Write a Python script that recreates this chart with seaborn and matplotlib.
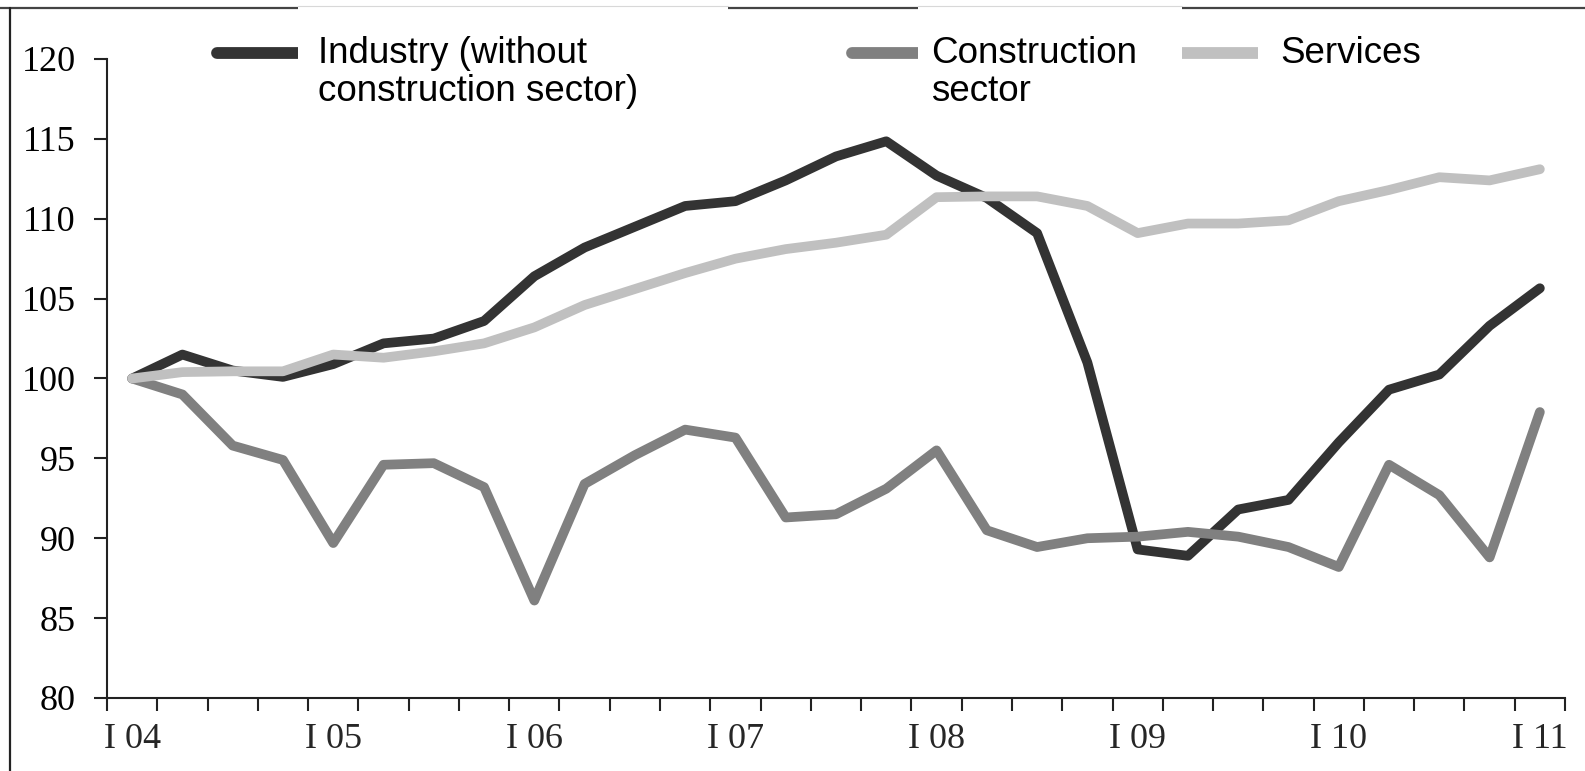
import numpy as np
import pandas as pd
import matplotlib.pyplot as plt
import seaborn as sns
from matplotlib.lines import Line2D
from matplotlib.patches import Rectangle

# quarterly index, I 04 = 100
year_labels = ['I 04', 'I 05', 'I 06', 'I 07', 'I 08', 'I 09', 'I 10', 'I 11']
quarters = list(range(29))
industry = [100.0, 101.5, 100.5, 100.1, 100.9, 102.2, 102.5, 103.6, 106.4, 108.2,
            109.5, 110.8, 111.1, 112.4, 113.9, 114.85, 112.7, 111.3, 109.1, 101.0,
            89.3, 88.9, 91.8, 92.4, 96.0, 99.3, 100.25, 103.3, 105.65]
construction = [100.0, 99.0, 95.8, 94.9, 89.7, 94.6, 94.7, 93.2, 86.1, 93.4,
                95.2, 96.8, 96.3, 91.3, 91.5, 93.1, 95.5, 90.5, 89.45, 90.0,
                90.1, 90.4, 90.1, 89.45, 88.2, 94.6, 92.7, 88.8, 97.9]
services = [100.0, 100.4, 100.45, 100.45, 101.5, 101.3, 101.7, 102.2, 103.2, 104.6,
            105.6, 106.6, 107.5, 108.1, 108.5, 109.0, 111.35, 111.4, 111.4, 110.8,
            109.1, 109.7, 109.7, 109.9, 111.1, 111.8, 112.6, 112.4, 113.1]
series_names = ['Industry (without\nconstruction sector)', 'Construction\nsector', 'Services']
colors = ['#333333', '#808080', '#c0c0c0']

df = pd.DataFrame({
    'quarter': quarters * 3,
    'value': industry + construction + services,
    'series': [series_names[0]] * 29 + [series_names[1]] * 29 + [series_names[2]] * 29,
})

sns.set_style('ticks')
plt.rcParams['font.family'] = ['Liberation Serif', 'DejaVu Serif']

W, H = 1585, 771
fig = plt.figure(figsize=(W / 100, H / 100), dpi=100)


def fx(x):
    return x / W


def fy(y):
    return 1 - y / H


ax = fig.add_axes([fx(107), fy(698), (1565 - 107) / W, (698 - 59) / H])
sns.lineplot(data=df, x='quarter', y='value', hue='series', hue_order=series_names,
             palette=dict(zip(series_names, colors)), linewidth=7, legend=False,
             ax=ax, solid_capstyle='round', solid_joinstyle='round')

ax.set_xlim(-0.5, 28.5)
ax.set_ylim(80, 120)
ax.set_yticks(np.arange(80, 121, 5))
ax.set_xticks(np.arange(-0.5, 29, 1))
ax.set_xticklabels([])
ax.set_xticks(np.arange(0, 29, 4), minor=True)
ax.set_xticklabels(year_labels, minor=True)
ax.tick_params(axis='both', which='major', direction='out', length=9.5, width=1.5,
               color='#222222', labelsize=26, labelcolor='black')
ax.tick_params(axis='y', pad=13)
ax.tick_params(axis='x', which='minor', length=0, pad=18, labelsize=26)
ax.set_xlabel('')
ax.set_ylabel('')
sns.despine(ax=ax)
for side in ['left', 'bottom']:
    ax.spines[side].set_linewidth(1.5)
    ax.spines[side].set_color('#222222')

# frame remains of the original picture
fig.add_artist(Line2D([0, 1], [fy(7.5), fy(7.5)], transform=fig.transFigure,
                      color='#444444', linewidth=1.6, zorder=1))
fig.add_artist(Line2D([fx(10), fx(10)], [fy(7.5), 0], transform=fig.transFigure,
                      color='#222222', linewidth=1.6, zorder=1))

# legend drawn as in the source: handle + white text box
handles = [(217, 310, 53, 'round'), (852, 930, 53, 'round'), (1182, 1258, 53, 'butt')]
for (x0, x1, y, cap), c in zip(handles, colors):
    fig.add_artist(Line2D([fx(x0), fx(x1)], [fy(y), fy(y)], transform=fig.transFigure,
                          color=c, linewidth=8.5, solid_capstyle=cap, zorder=2))
for x0, x1, y1 in [(298, 728, 112), (918, 1182, 108)]:
    fig.add_artist(Rectangle((fx(x0), fy(y1)), fx(x1 - x0), (y1 - 6) / H,
                             transform=fig.transFigure, facecolor='white',
                             edgecolor='none', zorder=3))
    fig.add_artist(Line2D([fx(x0), fx(x1)], [fy(6), fy(6)], transform=fig.transFigure,
                          color='#d8d8d8', linewidth=0.8, zorder=3))

text_kw = dict(fontsize=26.5, family=['Liberation Sans', 'DejaVu Sans'], color='black',
               ha='left', va='baseline', linespacing=1.12, zorder=4)
fig.text(fx(318), fy(101), series_names[0], **text_kw)
fig.text(fx(931), fy(101), series_names[1], **text_kw)
fig.text(fx(1280), fy(63), series_names[2], **text_kw)

fig.savefig('out.png', dpi=100)
